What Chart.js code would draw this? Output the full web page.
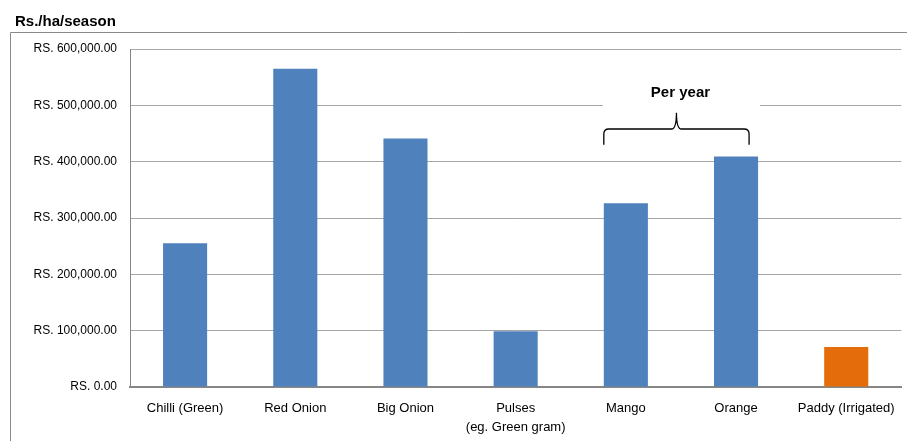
<!DOCTYPE html>
<html>
<head>
<meta charset="utf-8">
<script src="https://cdn.jsdelivr.net/npm/chart.js@4.4.1/dist/chart.umd.min.js"></script>
<style>
  html, body { margin: 0; padding: 0; background: #fff; }
  canvas { display: block; }
</style>
</head>
<body>
<canvas id="c" width="907" height="441"></canvas>
<script>
// Gross income per crop (Rs. per hectare per season; Mango and Orange per year)
const categories = ['Chilli (Green)', 'Red Onion', 'Big Onion', ['Pulses', '(eg. Green gram)'], 'Mango', 'Orange', 'Paddy (Irrigated)'];
const incomeValues = [255000, 565000, 441000, 99000, 326000, 409000, 71000];
const barColors = ['#4F81BD', '#4F81BD', '#4F81BD', '#4F81BD', '#4F81BD', '#4F81BD', '#E46C0A'];
const yTickValues = [0, 100000, 200000, 300000, 400000, 500000, 600000];
const axisTitle = 'Rs./ha/season';
const groupNote = 'Per year';
const perYearCrops = ['Mango', 'Orange'];

const fmt = v => 'RS. ' + v.toLocaleString('en-US', { minimumFractionDigits: 2, maximumFractionDigits: 2 });

// Outer frame and the axis title above it
const framePlugin = {
  id: 'frame',
  beforeDraw(chart) {
    const ctx = chart.ctx;
    ctx.save();
    ctx.fillStyle = '#fff';
    ctx.fillRect(0, 0, chart.width, chart.height);
    ctx.strokeStyle = '#8a8a8a';
    ctx.lineWidth = 1;
    ctx.beginPath();
    ctx.moveTo(chart.width, 32.5);
    ctx.lineTo(10.5, 32.5);
    ctx.lineTo(10.5, chart.height);
    ctx.stroke();
    ctx.fillStyle = '#000';
    ctx.font = 'bold 15px "Liberation Sans", Arial, sans-serif';
    ctx.textBaseline = 'alphabetic';
    ctx.textAlign = 'left';
    ctx.fillText(axisTitle, 15, 26);
    ctx.restore();
  }
};

// Brace with the "Per year" note over the fruit crops
const bracePlugin = {
  id: 'brace',
  afterDatasetsDraw(chart) {
    const ctx = chart.ctx;
    const y = chart.scales.y;
    const meta = chart.getDatasetMeta(0);
    const labels = chart.data.labels;
    const first = meta.data[labels.indexOf(perYearCrops[0])];
    const last = meta.data[labels.indexOf(perYearCrops[1])];
    const L = first.x - first.width / 2;
    const Rbox = last.x + last.width / 2;
    const R = Rbox - 9;
    const M = (L + R) / 2;

    ctx.save();
    // white label box interrupting the gridline
    ctx.fillStyle = '#fff';
    const bt = y.getPixelForValue(545000), bb = y.getPixelForValue(485000);
    ctx.fillRect(L - 1, bt, Rbox - L + 3, bb - bt);

    ctx.fillStyle = '#000';
    ctx.font = 'bold 15px "Liberation Sans", Arial, sans-serif';
    ctx.textAlign = 'center';
    ctx.textBaseline = 'middle';
    ctx.fillText(groupNote, M + 4, y.getPixelForValue(522000));

    const yh = y.getPixelForValue(458000);
    const yt = y.getPixelForValue(487000);
    const yb = y.getPixelForValue(430000);
    const r = 5;
    ctx.strokeStyle = '#000';
    ctx.lineWidth = 1.3;
    ctx.beginPath();
    ctx.moveTo(L, yb);
    ctx.lineTo(L, yh + r);
    ctx.quadraticCurveTo(L, yh, L + r, yh);
    ctx.lineTo(M - r, yh);
    ctx.quadraticCurveTo(M, yh, M, yt);
    ctx.quadraticCurveTo(M, yh, M + r, yh);
    ctx.lineTo(R - r, yh);
    ctx.quadraticCurveTo(R, yh, R, yh + r);
    ctx.lineTo(R, yb);
    ctx.stroke();
    ctx.restore();
  }
};

new Chart(document.getElementById('c'), {
  type: 'bar',
  data: {
    labels: categories,
    datasets: [{
      data: incomeValues,
      backgroundColor: barColors,
      borderWidth: 0,
      categoryPercentage: 1,
      barPercentage: 0.4
    }]
  },
  options: {
    responsive: false,
    devicePixelRatio: 1,
    animation: false,
    layout: { padding: { left: 10, top: 49, right: 5, bottom: 0 } },
    plugins: { legend: { display: false }, tooltip: { enabled: false } },
    scales: {
      x: {
        grid: { display: false, drawTicks: false },
        border: { display: true, color: '#868686', width: 2 },
        ticks: {
          color: '#000',
          font: { family: '"Liberation Sans", Arial, sans-serif', size: 13, lineHeight: 1.45 },
          padding: 12,
          maxRotation: 0,
          autoSkip: false
        },
        afterFit(s) { s.height = 54; }
      },
      y: {
        min: 0,
        max: 600000,
        afterBuildTicks(s) { s.ticks = yTickValues.map(v => ({ value: v })); },
        grid: { color: '#a6a6a6', lineWidth: 1, drawTicks: false },
        border: { display: true, color: '#868686', width: 1 },
        ticks: {
          color: '#000',
          font: { family: '"Liberation Sans", Arial, sans-serif', size: 12 },
          padding: 13,
          callback: v => fmt(v)
        },
        afterFit(s) { s.width = 120; }
      }
    }
  },
  plugins: [framePlugin, bracePlugin]
});
</script>
</body>
</html>
